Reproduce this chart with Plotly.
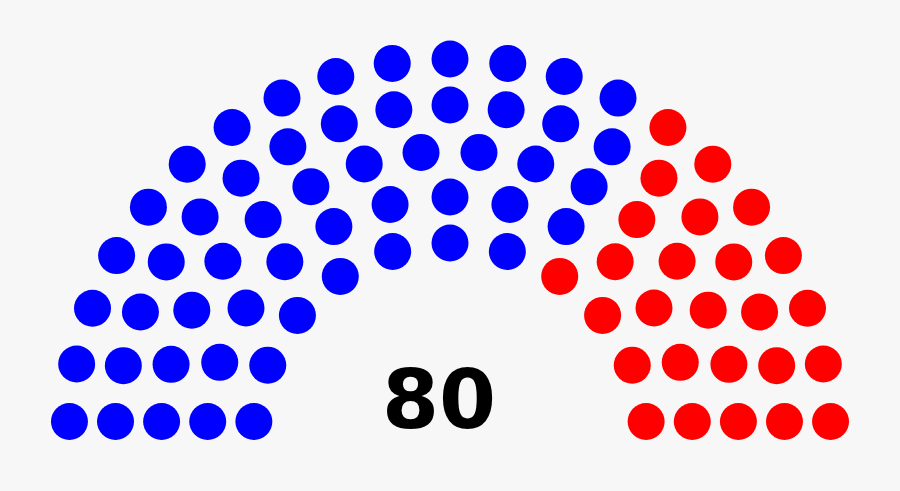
import numpy as np
import plotly.graph_objects as go

# Parliament composition
parties = ["Blue", "Red"]
seats = [54, 26]
colors = ["#0000ff", "#ff0000"]
total_label = "80"

# seats per arc row, innermost to outermost
row_seats = [11, 13, 16, 19, 21]

DOT = 37  # seat diameter in px


def seat_positions(row_seats, r_inner=197, r_step=46):
    # place seats evenly on each arc (ends lifted by half a seat),
    # then order them left to right by angle
    pts = []
    for i, n in enumerate(row_seats):
        r = r_inner + i * r_step
        a0 = np.arcsin(DOT / 2 / r)
        for k in range(n):
            theta = np.pi - a0 - k * (np.pi - 2 * a0) / (n - 1)
            pts.append((theta, r))
    pts.sort(key=lambda p: (-round(p[0], 9), p[1]))
    return pts


pts = seat_positions(row_seats)
cx, cy = 450, 51  # arc centre, plot units (1 unit = 1 px)

fig = go.Figure()
start = 0
for name, n, col in zip(parties, seats, colors):
    chunk = pts[start:start + n]
    start += n
    xs = [cx + r * np.cos(t) for t, r in chunk]
    ys = [cy + r * np.sin(t) for t, r in chunk]
    fig.add_trace(go.Scatter(x=xs, y=ys, mode="markers", name=name, hoverinfo="skip",
                             marker=dict(size=DOT, color=col, line=dict(width=0))))

fig.add_annotation(x=439, y=92, text="<b>" + total_label + "</b>", showarrow=False,
                   font=dict(family="DejaVu Sans", size=82, color="black"))

fig.update_layout(
    width=900, height=491,
    margin=dict(l=0, r=0, t=0, b=0),
    paper_bgcolor="#f7f7f7", plot_bgcolor="#f7f7f7",
    showlegend=False,
    xaxis=dict(range=[0, 900], visible=False, fixedrange=True),
    yaxis=dict(range=[0, 491], visible=False, fixedrange=True),
)

fig.write_html("out.html", config={"displayModeBar": False},
               post_script="document.body.style.margin='0';")
